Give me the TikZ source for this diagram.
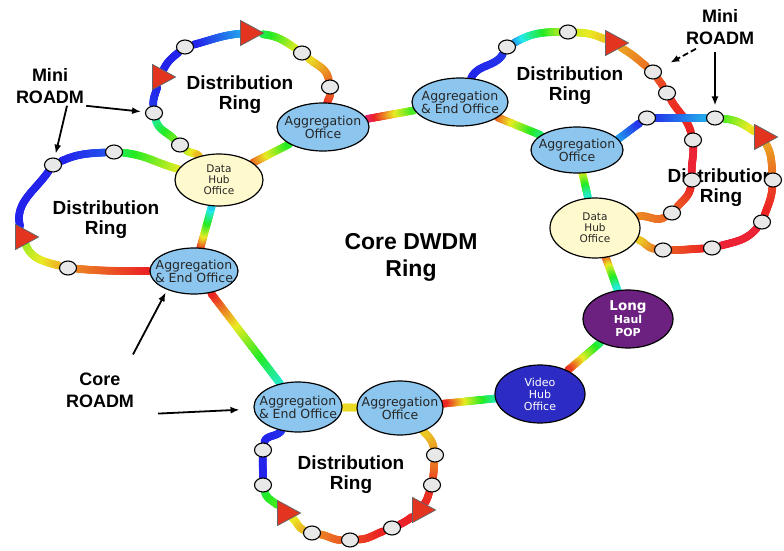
\documentclass[tikz,border=0pt]{standalone}
\usepackage{fontspec}
\setmainfont{Liberation Sans}
\newfontfamily\officefont{DejaVu Sans}
\usetikzlibrary{shapes.geometric,decorations.markings,backgrounds,arrows.meta}
\definecolor{officeblue}{RGB}{140,198,238}
\definecolor{hubyellow}{RGB}{255,250,205}
\definecolor{poppurple}{RGB}{108,32,128}
\definecolor{videoblue}{RGB}{44,44,196}
\definecolor{dropred}{RGB}{226,52,30}
\tikzstyle{office} = [ellipse, draw, line width=1.2pt, fill=officeblue, inner sep=0pt, minimum width=92pt, minimum height=48pt]
\tikzstyle{hub} = [office, fill=hubyellow]
\tikzstyle{otext} = [align=center, inner sep=0pt, font=\officefont\fontsize{12.5}{13}\selectfont, text=black!85]
\tikzstyle{htext} = [otext, font=\officefont\fontsize{10.5}{11}\selectfont]
\tikzstyle{wtext} = [otext, text=white, font=\officefont\bfseries\fontsize{11}{13}\selectfont]
\tikzstyle{mini} = [ellipse, draw, line width=1.1pt, fill=gray!18, minimum width=17pt, minimum height=14pt, inner sep=0pt]
\tikzstyle{drop} = [isosceles triangle, isosceles triangle apex angle=60, isosceles triangle stretches, draw=black!60, line width=0.8pt, fill=dropred, minimum width=25pt, minimum height=23pt, inner sep=0pt]
\tikzstyle{ringlabel} = [align=center, inner sep=0pt, font=\bfseries\fontsize{19}{20}\selectfont]
\tikzstyle{corelabel} = [align=center, inner sep=0pt, font=\bfseries\fontsize{23}{27}\selectfont]
\tikzstyle{tag} = [align=center, inner sep=2pt, font=\bfseries\fontsize{18}{22}\selectfont]
\tikzstyle{pointer} = [line width=1.8pt, -{Latex[length=9pt,width=7pt]}]
\tikzset{
  fiber/.style 2 args={postaction={decorate}, decoration={markings,
    mark=between positions 0 and 1 step 0.7pt with {%
      \pgfmathsetmacro\ffrac{\pgfkeysvalueof{/pgf/decoration/mark info/distance from start}/\pgfdecoratedpathlength}%
      \pgfmathsetmacro\fhue{mod(720+(#1)+((#2)-(#1))*\ffrac,360)}%
      \definecolor{fibercol}{Hsb}{\fhue,0.85,0.92}%
      \fill[fibercol] (0,0) circle (3.9pt);}}}
}

\begin{document}
\begin{tikzpicture}[x=1pt, y=1pt]
  \useasboundingbox (0,0) rectangle (784,550);
  % offices on the core ring
  \node (aoTL) [office, label={[otext]center:Aggregation\\Office}] at (323,423) {};
  \node (dhL) [hub, minimum width=88pt, minimum height=52pt, label={[htext]center:Data\\Hub\\Office}] at (219,370) {};
  \node (aeL) [office, minimum width=88pt, minimum height=46pt, label={[otext]center:Aggregation\\\& End Office}] at (194,279) {};
  \node (aeT) [office, minimum width=96pt, label={[otext]center:Aggregation\\\& End Office}] at (460,448) {};
  \node (aoR) [office, minimum height=46pt, label={[otext]center:Aggregation\\Office}] at (577,400) {};
  \node (dhR) [hub, minimum width=90pt, minimum height=60pt, label={[htext]center:Data\\Hub\\Office}] at (595,322) {};
  \node (lh) [office, fill=poppurple, minimum width=90pt, minimum height=58pt, label={[wtext]center:{\fontsize{13.5}{14}\selectfont Long}\\Haul\\POP}] at (628,231) {};
  \node (vh) [office, fill=videoblue, minimum width=90pt, minimum height=58pt, label={[wtext, font=\officefont\fontsize{11}{12}\selectfont]center:Video\\Hub\\Office}] at (540,156) {};
  \node (aoB) [office, minimum width=86pt, minimum height=54pt, label={[otext]center:Aggregation\\Office}] at (400,142) {};
  \node (aeB) [office, minimum width=88pt, minimum height=50pt, label={[otext]center:Aggregation\\\& End Office}] at (298,143) {};
  % mini ROADMs and add/drop points
  \node (mA1) [mini] at (330,463) {};
  \node (mA2) [mini] at (302,497) {};
  \node (tA1) [drop] at (248,517) {};
  \node (mA3) [mini] at (185,503) {};
  \node (tA2) [drop] at (160,473) {};
  \node (mA4) [mini] at (154,437) {};
  \node (mA5) [mini] at (180,405) {};
  \node (mB1) [mini] at (114,398) {};
  \node (mB2) [mini] at (53,385) {};
  \node (tB) [drop] at (23,313) {};
  \node (mB3) [mini] at (68,282) {};
  \node (mC1) [mini] at (507,503) {};
  \node (mC2) [mini] at (568,518) {};
  \node (tC) [drop] at (613,507) {};
  \node (mC3) [mini] at (653,478) {};
  \node (mC4) [mini] at (667,457) {};
  \node (mC5) [mini] at (693,410) {};
  \node (mC6) [mini] at (692,370) {};
  \node (mC7) [mini] at (672,337) {};
  \node (mD1) [mini] at (647,432) {};
  \node (mD2) [mini] at (715,432) {};
  \node (tD) [drop] at (762,413) {};
  \node (mD3) [mini] at (773,370) {};
  \node (mD4) [mini] at (762,328) {};
  \node (mD5) [mini] at (712,302) {};
  \node (mD6) [mini] at (663,300) {};
  \node (mE1) [mini] at (263,100) {};
  \node (mE2) [mini] at (263,65) {};
  \node (tE1) [drop] at (285,37) {};
  \node (mE3) [mini] at (312,17) {};
  \node (mE4) [mini] at (350,10) {};
  \node (mE5) [mini] at (392,22) {};
  \node (tE2) [drop] at (420,40) {};
  \node (mE6) [mini] at (432,65) {};
  \node (mE7) [mini] at (435,95) {};
  % labels
  \node (distA) [ringlabel] at (240,455) {Distribution\\Ring};
  \node (distB) [ringlabel] at (106,330) {Distribution\\Ring};
  \node (distC) [ringlabel] at (570,464) {Distribution\\Ring};
  \node (distE) [ringlabel] at (351,75) {Distribution\\Ring};
  \node (core) [corelabel] at (411,293) {Core DWDM\\Ring};
  \node (mrL) [tag] at (50,464) {Mini\\ROADM};
  \node (mrR) [tag] at (720,523) {Mini\\ROADM};
  \node (crL) [tag] at (100,160) {Core\\ROADM};
  % pointers
  \draw [pointer, shorten >=4pt] (mrL.south east) -- (mA4);
  \draw [pointer, shorten >=4pt] ([xshift=17pt]mrL.south) -- (mB2);
  \draw [pointer, dash pattern=on 6pt off 3pt, shorten >=11pt] ([shift={(-24pt,-2pt)}]mrR.south) -- (mC3);
  \draw [pointer, shorten >=5pt] ([shift={(-5pt,-5pt)}]mrR.south) -- (mD2);
  \draw [pointer, shorten >=3pt] ([shift={(33pt,16pt)}]crL.north) -- (aeL.215);
  \draw [pointer, shorten >=14pt] ([shift={(22pt,-4pt)}]crL.south east) -- (aeB);
  \begin{scope}[on background layer]
    \node (distD) [ringlabel] at (721,362) {Distribution\\Ring};
    % core DWDM ring
    \path [fiber={-30}{110}] (aoTL) -- (aeT);
    \path [fiber={15}{140}] (aeT) -- (aoR);
    \path [fiber={55}{170}] (aoR) -- (dhR);
    \path [fiber={10}{175}] (dhR) -- (lh);
    \path [fiber={150}{5}] (lh) -- (vh);
    \path [fiber={170}{0}] (vh) -- (aoB);
    \path [fiber={55}{55}] (aoB) -- (aeB);
    \path [fiber={175}{0}] (aeB) -- (aeL);
    \path [fiber={0}{190}] (aeL) -- (dhL);
    \path [fiber={15}{120}] (dhL) -- (aoTL);
    % ring A
    \path [fiber={0}{15}] (aoTL) to[out=80, in=-90] (mA1);
    \path [fiber={20}{55}] (mA1) to[out=100, in=-40] (mA2);
    \path [fiber={60}{130}] (mA2) to[out=145, in=-5] (tA1);
    \path [fiber={200}{240}] (tA1) to[out=185, in=15] (mA3);
    \path [fiber={240}{240}] (mA3) to[out=220, in=65] (tA2);
    \path [fiber={240}{235}] (tA2) to[out=255, in=95] (mA4);
    \path [fiber={160}{100}] (mA4) to[out=-75, in=135] (mA5);
    \path [fiber={80}{45}] (mA5) to[out=-40, in=130] (dhL);
    % ring B
    \path [fiber={60}{130}] (dhL) to[out=165, in=-5] (mB1);
    \path [fiber={225}{240}] (mB1) to[out=183, in=25] (mB2);
    \path [fiber={240}{240}] (mB2) to[out=235, in=105] (tB);
    \path [fiber={85}{45}] (tB) to[out=-70, in=165] (mB3);
    \path [fiber={30}{0}] (mB3) to[out=-5, in=180] (aeL);
    % ring C
    \path [fiber={240}{235}] (aeT) to[out=65, in=-120] (mC1);
    \path [fiber={210}{85}] (mC1) to[out=30, in=180] (mC2);
    \path [fiber={70}{50}] (mC2) to[out=-3, in=155] (tC);
    \path [fiber={40}{25}] (tC) to[out=-30, in=140] (mC3);
    \path [fiber={18}{10}] (mC3) to[out=-55, in=120] (mC4);
    \path [fiber={5}{0}] (mC4) to[out=-60, in=105] (mC5);
    \path [fiber={-5}{-5}] (mC5) to[out=-88, in=92] (mC6);
    \path [fiber={0}{15}] (mC6) to[out=-100, in=50] (mC7);
    \path [fiber={20}{30}] (mC7) to[out=-150, in=15] (dhR);
    % ring D
    \path [fiber={200}{235}] (aoR.15) to[out=35, in=-145] (mD1);
    \path [fiber={235}{200}] (mD1) to[out=0, in=180] (mD2);
    \path [fiber={110}{55}] (mD2) to[out=-5, in=145] (tD);
    \path [fiber={40}{25}] (tD) to[out=-60, in=95] (mD3);
    \path [fiber={10}{0}] (mD3) to[out=-95, in=70] (mD4);
    \path [fiber={-5}{-5}] (mD4) to[out=-130, in=15] (mD5);
    \path [fiber={0}{15}] (mD5) to[out=183, in=0] (mD6);
    \path [fiber={25}{50}] (mD6) to[out=172, in=-15] (dhR);
    % ring E
    \path [fiber={235}{240}] (aeB) to[out=235, in=80] (mE1);
    \path [fiber={240}{240}] (mE1) to[out=-92, in=90] (mE2);
    \path [fiber={130}{110}] (mE2) to[out=-75, in=135] (tE1);
    \path [fiber={65}{45}] (tE1) to[out=-35, in=160] (mE3);
    \path [fiber={30}{18}] (mE3) to[out=-10, in=180] (mE4);
    \path [fiber={10}{0}] (mE4) to[out=3, in=200] (mE5);
    \path [fiber={-5}{0}] (mE5) to[out=25, in=220] (tE2);
    \path [fiber={0}{5}] (tE2) to[out=55, in=-110] (mE6);
    \path [fiber={10}{25}] (mE6) to[out=82, in=-95] (mE7);
    \path [fiber={35}{50}] (mE7) to[out=100, in=-45] (aoB);
  \end{scope}
\end{tikzpicture}
\end{document}
